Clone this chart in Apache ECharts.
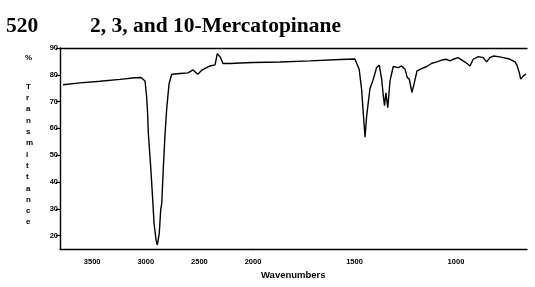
<!DOCTYPE html>
<html>
<head>
<meta charset="utf-8">
<script src="https://cdn.jsdelivr.net/npm/echarts@6/dist/echarts.min.js"></script>
<style>
html,body{margin:0;padding:0;background:#fff;}
#chart{width:535px;height:287px;}
</style>
</head>
<body>
<div id="chart"></div>
<script>
// High wavenumber region (3800 - 2000 cm-1), compressed scale
var highWavenumbers = [3772, 3613, 3427, 3240, 3100, 3044, 3007, 2993, 2984, 2976, 2954, 2935, 2923, 2904, 2892, 2874, 2861, 2851, 2836, 2820, 2805, 2783, 2758, 2681, 2606, 2559, 2515, 2478, 2401, 2354, 2333, 2307, 2280, 2214, 2121, 2000];
var highTransmittance = [76.3, 77.0, 77.6, 78.3, 78.9, 79.0, 77.7, 72.2, 66.6, 58.1, 45.6, 33.2, 24.6, 18.3, 16.5, 20.9, 29.5, 32.1, 45.6, 58.1, 67.3, 76.6, 80.2, 80.5, 80.7, 81.8, 80.2, 81.7, 83.3, 83.7, 87.9, 86.7, 84.2, 84.2, 84.4, 84.6];
// Low wavenumber region (2000 - 650 cm-1), expanded scale
var lowWavenumbers = [2000, 1867, 1719, 1571, 1498, 1489, 1477, 1465, 1457, 1448, 1440, 1424, 1407, 1391, 1378, 1366, 1358, 1352, 1345, 1336, 1325, 1309, 1284, 1268, 1251, 1240, 1230, 1217, 1205, 1192, 1169, 1144, 1119, 1094, 1070, 1046, 1030, 1013, 990, 965, 947, 931, 915, 890, 866, 849, 833, 816, 792, 767, 742, 726, 709, 698, 688, 681, 675, 668, 660, 655];
var lowTransmittance = [84.6, 84.8, 85.2, 85.7, 85.9, 85.8, 82.1, 74.7, 66.0, 56.7, 64.7, 74.7, 78.4, 82.7, 83.6, 78.4, 72.2, 68.5, 73.3, 67.7, 77.7, 83.1, 82.7, 83.3, 82.1, 79.0, 78.4, 73.4, 77.1, 81.5, 82.3, 83.1, 84.3, 84.8, 85.5, 85.8, 85.2, 85.8, 86.4, 85.2, 84.3, 83.3, 85.8, 86.8, 86.4, 84.8, 86.4, 87.0, 86.8, 86.4, 86.0, 85.5, 84.8, 83.3, 80.8, 78.4, 78.9, 79.6, 79.0, 80.3];
var highTicks = [2000, 2500, 3000, 3500];
var lowTicks = [1000, 1500];
var yTicks = [20, 30, 40, 50, 60, 70, 80, 90];
var pageNumber = '520';
var titleText = '2, 3, and 10-Mercatopinane';
var xName = 'Wavenumbers';
var yNameLetters = ['T','r','a','n','s','m','i','t','t','a','n','c','e'];

function pairs(xs, ys){ return xs.map(function(x,i){ return [x, ys[i]]; }); }
function plain(v){ return String(v); }

var tickFont = {fontFamily:'Liberation Sans', fontWeight:'bold', fontSize:7.5, color:'#000', formatter:plain};
var lineStyle = {color:'#000', width:1.4};

var chart = echarts.init(document.getElementById('chart'), null, {renderer:'canvas'});
chart.setOption({
  animation:false,
  backgroundColor:'#fff',
  title:[
    {text:pageNumber, left:6, top:15, padding:0, textStyle:{fontFamily:'Liberation Serif', fontWeight:'bold', fontSize:21.5, color:'#000'}},
    {text:titleText, left:90, top:15, padding:0, textStyle:{fontFamily:'Liberation Serif', fontWeight:'bold', fontSize:21.5, color:'#000'}}
  ],
  grid:[
    {left:60, width:193, top:48, height:201},
    {left:253, width:274, top:48, height:201}
  ],
  xAxis:[
    {type:'value', gridIndex:0, min:2000, max:3800, inverse:true, position:'bottom',
     axisLine:{show:true, onZero:false, lineStyle:lineStyle}, axisTick:{show:false}, splitLine:{show:false},
     axisLabel:Object.assign({customValues:highTicks, margin:9}, tickFont)},
    {type:'value', gridIndex:1, min:650, max:2000, inverse:true, position:'bottom',
     axisLine:{show:true, onZero:false, lineStyle:lineStyle}, axisTick:{show:false}, splitLine:{show:false},
     axisLabel:Object.assign({customValues:lowTicks, margin:9}, tickFont)},
    {type:'value', gridIndex:0, min:2000, max:3800, inverse:true, position:'top',
     axisLine:{show:true, onZero:false, lineStyle:lineStyle}, axisTick:{show:false}, axisLabel:{show:false}, splitLine:{show:false}},
    {type:'value', gridIndex:1, min:650, max:2000, inverse:true, position:'top',
     axisLine:{show:true, onZero:false, lineStyle:lineStyle}, axisTick:{show:false}, axisLabel:{show:false}, splitLine:{show:false}}
  ],
  yAxis:[
    {type:'value', gridIndex:0, min:15, max:90, position:'left',
     axisLine:{show:true, lineStyle:lineStyle},
     axisTick:{show:true, length:4, customValues:yTicks, lineStyle:{color:'#000', width:1.2}},
     axisLabel:Object.assign({customValues:yTicks, margin:2}, tickFont),
     splitLine:{show:false}},
    {type:'value', gridIndex:1, min:15, max:90, show:false, splitLine:{show:false}}
  ],
  graphic:[
    {type:'text', left:25, top:54, style:{text:'%', fontFamily:'Liberation Sans', fontWeight:'bold', fontSize:8, fill:'#000'}},
    {type:'text', left:26, top:81, style:{text:yNameLetters.join('\n'), fontFamily:'Liberation Sans', fontWeight:'bold', fontSize:8, lineHeight:11.3, align:'center', fill:'#000'}},
    {type:'text', left:261, top:270, style:{text:xName, fontFamily:'Liberation Sans', fontWeight:'bold', fontSize:9.5, fill:'#000'}}
  ],
  series:[
    {type:'line', xAxisIndex:0, yAxisIndex:0, data:pairs(highWavenumbers, highTransmittance), showSymbol:false, lineStyle:lineStyle},
    {type:'line', xAxisIndex:1, yAxisIndex:1, data:pairs(lowWavenumbers, lowTransmittance), showSymbol:false, lineStyle:lineStyle}
  ]
});
</script>
</body>
</html>
